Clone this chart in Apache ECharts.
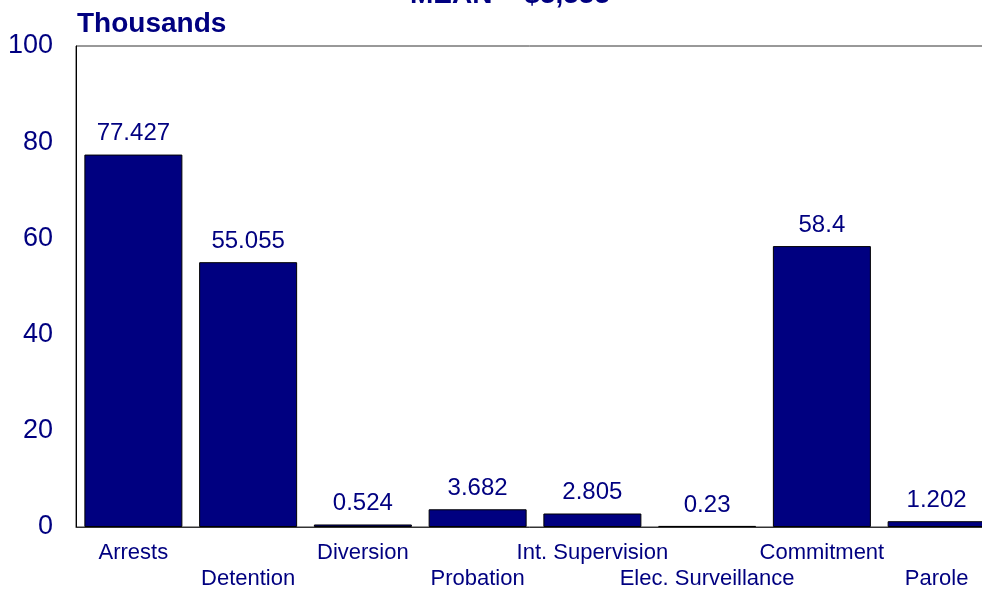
<!DOCTYPE html>
<html><head><meta charset="utf-8">
<script src="https://cdn.jsdelivr.net/npm/echarts@6/dist/echarts.min.js"></script>
<style>html,body{margin:0;padding:0;background:#fff}#c{width:982px;height:591px}</style>
</head><body><div id="c"></div>
<script>
const categories = ["Arrests","Detention","Diversion","Probation","Int. Supervision","Elec. Surveillance","Commitment","Parole"];
const values = [77.427,55.055,0.524,3.682,2.805,0.23,58.4,1.202];
const yTicks = [0,20,40,60,80,100];
const titleText = "MEAN = $5,555";
const unitText = "Thousands";

const navy = "#000080";
const ff = '"Liberation Sans", Arial, sans-serif';
const chart = echarts.init(document.getElementById('c'), null, {renderer:'canvas'});
chart.setOption({
  animation:false,
  textStyle:{fontFamily:ff},
  title:[
    {text:titleText, left:510, textAlign:'center', top:-19, padding:0, textStyle:{color:navy, fontSize:28, fontWeight:'bold', fontFamily:ff}},
    {text:unitText, left:77, top:10, padding:0, textStyle:{color:navy, fontSize:28, fontWeight:'bold', fontFamily:ff}}
  ],
  grid:{left:76, width:918, top:46, height:481, show:true, borderColor:'#333', borderWidth:1, backgroundColor:'transparent', containLabel:false, outerBoundsMode:'none'},
  xAxis:{
    type:'category', data:categories,
    axisLine:{lineStyle:{color:'#333', width:1}},
    axisTick:{show:false},
    axisLabel:{
      interval:0, color:navy, fontSize:22, margin:13, lineHeight:26,
      formatter:function(v,i){return i%2===1 ? '\n'+v : v;}
    }
  },
  yAxis:{
    type:'value', min:0, max:100, interval:20,
    axisLine:{show:true, lineStyle:{color:'#000', width:1}},
    axisTick:{show:false},
    splitLine:{show:false},
    axisLabel:{color:navy, fontSize:27, margin:23,
      formatter:function(v){return yTicks.indexOf(v)>=0 ? String(v) : '';}}
  },
  series:[{
    type:'bar', data:values, barWidth:98,
    itemStyle:{color:navy, borderColor:'#000', borderWidth:1},
    label:{show:true, position:'top', distance:9, color:navy, fontSize:24,
      formatter:function(p){return String(p.value);}}
  }]
});
</script></body></html>
